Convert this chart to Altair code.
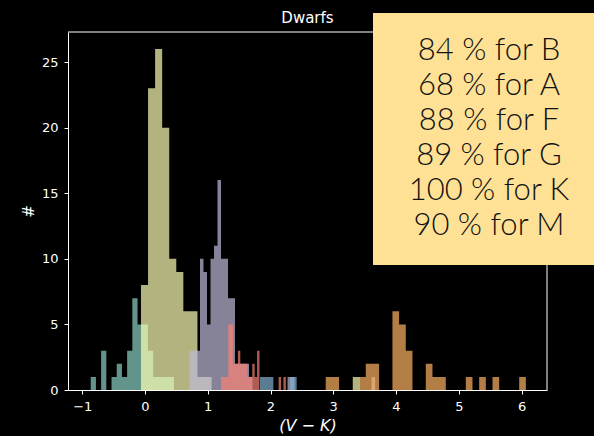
import altair as alt
import pandas as pd

# ---- data ----
classes = ["B", "A", "F", "G", "K", "M"]
class_colors = ["#8dd3c7", "#feffb3", "#bfbbd9", "#fa8174", "#81b1d2", "#fdb462"]

# each histogram: left edge of first bin, bin width, counts per bin
B_start, B_width = -0.865, 0.0829
B_counts = [1, 0, 3, 0, 1, 2, 1, 3, 7, 5, 5, 3, 1, 1, 1, 1]

A_start, A_width = -0.064, 0.1125
A_counts = [8, 23, 26, 20, 10, 9, 6, 6, 1, 1,
            0, 0, 0, 0, 0, 0, 0, 0, 0, 0,
            0, 0, 0, 0, 0, 0, 0, 0, 0, 0, 1]

F_start, F_width = 0.709, 0.0558
F_counts = [3, 3, 3, 10, 9, 5, 10, 11, 16, 10, 10, 7, 7, 2, 2, 2, 2, 1,
            0, 0, 0, 0, 0, 0, 0, 0, 0, 0, 1, 1,
            0, 0, 0, 0, 0, 0, 0, 0, 0, 0, 0, 0, 0, 0, 0, 0, 0, 0, 0, 0, 0, 0, 1]

G_start, G_width = 1.213, 0.0382
G_counts = [1, 1, 1, 5, 5, 2, 2, 3, 2, 2, 2, 1, 1, 2, 1, 3,
            0, 0, 0, 0, 0, 0, 0, 0, 1, 0, 1]

K_start, K_width = 1.833, 0.0531
K_counts = [1, 1, 1, 1, 0, 0, 0, 0, 0, 1, 1]

M_start, M_width = 2.880, 0.1063
M_counts = [1, 1, 0, 0, 0, 1, 2, 2, 0, 0, 6, 5, 3, 0, 0, 2, 1, 1, 0, 0,
            0, 1, 0, 1, 0, 1, 0, 0, 0, 1]

x_ticks = [-1, 0, 1, 2, 3, 4, 5, 6]
y_ticks = [0, 5, 10, 15, 20, 25]
x_domain = [-1.227, 6.406]
y_domain = [0, 27.29]

box_lines = ["84 % for B", "68 % for A", "88 % for F",
             "89 % for G", "100 % for K", "90 % for M"]

title_text = "Dwarfs"
x_title = "(V − K)"
y_title = "#"

# ---- build step-outline tables (one filled step polygon per class) ----
hists = [("B", B_start, B_width, B_counts),
         ("A", A_start, A_width, A_counts),
         ("F", F_start, F_width, F_counts),
         ("G", G_start, G_width, G_counts),
         ("K", K_start, K_width, K_counts),
         ("M", M_start, M_width, M_counts)]
frames = {}
for name, start, width, counts in hists:
    rows = []
    for i, c in enumerate(counts):
        rows.append({"edge": start + i * width, "n": c})
    rows.append({"edge": start + len(counts) * width, "n": 0})
    frames[name] = pd.DataFrame(rows)

W, H = 479, 358
FONT = "DejaVu Sans"

x_enc = alt.X("edge:Q",
              scale=alt.Scale(domain=x_domain, nice=False, zero=False),
              axis=alt.Axis(values=x_ticks, format="d", title=x_title,
                            grid=False, domain=True, domainColor="#ffffff",
                            domainWidth=1, tickColor="#ffffff", tickSize=4,
                            tickWidth=1, labelColor="#ffffff", labelFont=FONT,
                            labelFontSize=13, labelPadding=6,
                            titleFont=FONT, titleFontSize=16,
                            titleFontStyle="italic", titleFontWeight="normal",
                            titleColor="#ffffff", titlePadding=4))
y_enc = alt.Y("n:Q", stack=None,
              scale=alt.Scale(domain=y_domain, nice=False, zero=True),
              axis=alt.Axis(values=y_ticks, format="d", title=y_title,
                            grid=False, domain=True, domainColor="#ffffff",
                            domainWidth=1, tickColor="#ffffff", tickSize=4,
                            tickWidth=1, labelColor="#ffffff", labelFont=FONT,
                            labelFontSize=13, labelPadding=6,
                            titleFont=FONT, titleFontSize=15,
                            titleFontWeight="normal", titleColor="#ffffff",
                            titlePadding=5))

layers = []
for name, col in zip(classes, class_colors):
    layers.append(
        alt.Chart(frames[name])
        .mark_area(interpolate="step-after", opacity=0.7, color=col)
        .encode(x=x_enc, y=y_enc))

dummy = pd.DataFrame({"k": [0]})
top_rule = alt.Chart(dummy).mark_rule(color="#ffffff", strokeWidth=1).encode(
    x=alt.value(0), x2=alt.value(W), y=alt.value(0))
right_rule = alt.Chart(dummy).mark_rule(color="#ffffff", strokeWidth=1).encode(
    x=alt.value(W), y=alt.value(0), y2=alt.value(H))

title = alt.Chart(dummy).mark_text(text=title_text, font=FONT, fontSize=15,
                                   color="#ffffff", align="center",
                                   baseline="alphabetic").encode(
    x=alt.value(W / 2), y=alt.value(-9))

box = alt.Chart(dummy).mark_rect(color="#ffe196").encode(
    x=alt.value(305), x2=alt.value(560), y=alt.value(-19), y2=alt.value(233))

texts = []
for i, line in enumerate(box_lines):
    texts.append(
        alt.Chart(dummy).mark_text(text=line, font="Lato", fontSize=31,
                                   fontWeight=300, color="#111111",
                                   align="center", baseline="alphabetic").encode(
            x=alt.value(421), y=alt.value(28 + 35 * i)))

chart = alt.layer(*layers, top_rule, right_rule, title, box, *texts).properties(
    width=W, height=H,
    autosize=alt.AutoSizeParams(type="none"),
    padding={"left": 68, "top": 32, "right": 47, "bottom": 46},
).configure(background="#000000").configure_view(strokeWidth=0)

chart.save("out.html", embed_options={"renderer": "svg", "actions": False})
